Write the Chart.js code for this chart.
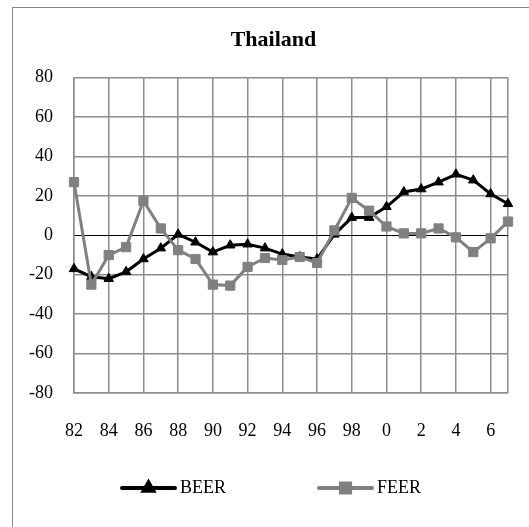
<!DOCTYPE html>
<html>
<head>
<meta charset="utf-8">
<script src="https://cdn.jsdelivr.net/npm/chart.js@4.4.1/dist/chart.umd.min.js"></script>
<style>
  html, body { margin: 0; padding: 0; width: 529px; height: 527px; overflow: hidden; background: #fff; }
  #frame { position: absolute; left: 12px; top: 7px; width: 600px; height: 600px; border: 1px solid #868686; box-sizing: border-box; }
  #wrap { position: absolute; left: 12px; top: 7px; width: 523px; height: 520px; }
</style>
</head>
<body>
<div id="frame"></div>
<div id="wrap"><canvas id="c" width="523" height="520"></canvas></div>
<script>
const TITLE = 'Thailand';
const YEARS = ['82','83','84','85','86','87','88','89','90','91','92','93','94','95','96','97','98','99','0','1','2','3','4','5','6','7'];
const BEER = [-17, -21, -22, -18.5, -12, -6.5, 0.5, -3.5, -8.5, -5, -4.5, -6.5, -9.5, -11, -12, 0.5, 9, 9, 14.5, 22, 23.5, 27, 31, 28, 21, 16];
const FEER = [27, -25, -10, -6, 17.5, 3.5, -7.5, -12, -25, -25.5, -16, -11.5, -12.5, -11, -14, 2.5, 19, 12.5, 4.5, 1, 1, 3.5, -1, -8.5, -1.5, 7];
const Y_MIN = -80, Y_MAX = 80, Y_STEP = 20;

const FONT = "'Liberation Serif', 'Times New Roman', serif";
const GRID = '#8c8c8c';

const lineLegend = {
  id: 'lineLegend',
  afterDraw(chart, args, opts) {
    const ctx = chart.ctx;
    ctx.save();
    chart.data.datasets.forEach((ds, i) => {
      const x = opts.xs[i], y = opts.y, len = opts.len;
      ctx.strokeStyle = ds.borderColor;
      ctx.lineWidth = 4;
      ctx.lineCap = 'round';
      ctx.beginPath(); ctx.moveTo(x, y); ctx.lineTo(x + len, y); ctx.stroke();
      ctx.fillStyle = ds.pointBackgroundColor;
      ctx.strokeStyle = ds.pointBorderColor;
      Chart.helpers.drawPoint(ctx, {pointStyle: ds.pointStyle, radius: ds.pointRadius, borderWidth: 1, rotation: 0}, x + len / 2, y);
      ctx.fillStyle = '#000';
      ctx.font = '18px ' + FONT;
      ctx.textBaseline = 'middle';
      ctx.textAlign = 'left';
      ctx.fillText(ds.label, x + len + 5, y);
    });
    ctx.restore();
  }
};

new Chart(document.getElementById('c'), {
  type: 'line',
  data: {
    labels: YEARS,
    datasets: [
      { label: 'BEER', data: BEER, order: 1, borderColor: '#000', backgroundColor: '#000',
        pointBackgroundColor: '#000', pointBorderColor: '#000', borderWidth: 3,
        pointStyle: 'triangle', pointRadius: 5.5, pointBorderWidth: 1, tension: 0 },
      { label: 'FEER', data: FEER, order: 0, borderColor: '#808080', backgroundColor: '#808080',
        pointBackgroundColor: '#808080', pointBorderColor: '#808080', borderWidth: 3,
        pointStyle: 'rect', pointRadius: 6.5, pointBorderWidth: 1, tension: 0 }
    ]
  },
  options: {
    responsive: false,
    animation: false,
    devicePixelRatio: 1,
    layout: { padding: { left: 0, right: 0, top: 0, bottom: 74 } },
    plugins: {
      legend: { display: false },
      tooltip: { enabled: false },
      title: { display: true, text: TITLE, color: '#000',
        font: { family: FONT, size: 22, weight: 'bold' },
        padding: { top: 19.8, bottom: 24.5 } },
      lineLegend: { xs: [110, 307], y: 481, len: 53 }
    },
    scales: {
      x: {
        type: 'category',
        offset: false,
        grid: {
          drawTicks: false,
          lineWidth: 1.5,
          color: (c) => (c.index % 2 === 0 || c.index === YEARS.length - 1) ? GRID : 'rgba(0,0,0,0)'
        },
        border: { display: true, color: GRID, width: 1.5 },
        ticks: {
          autoSkip: false, maxRotation: 0, padding: 27, color: '#000',
          font: { family: FONT, size: 18 },
          callback: function (v, i) { return i % 2 === 0 ? this.getLabelForValue(v) : ''; }
        },
        afterFit: (s) => { s.height = 60; }
      },
      y: {
        min: Y_MIN, max: Y_MAX,
        grid: {
          drawTicks: false,
          lineWidth: (c) => c.tick && c.tick.value === 0 ? 1 : 1.5,
          color: (c) => c.tick && c.tick.value === 0 ? '#000' : GRID
        },
        border: { display: true, color: GRID, width: 1.5 },
        ticks: { stepSize: Y_STEP, padding: 21, color: '#000', font: { family: FONT, size: 18 } },
        afterFit: (s) => { s.width = 62; }
      },
      yRight: {
        position: 'right',
        min: Y_MIN, max: Y_MAX,
        grid: { display: false, drawTicks: false },
        border: { display: false },
        ticks: { display: false },
        afterFit: (s) => { s.width = 22.3; }
      }
    }
  },
  plugins: [lineLegend]
});
</script>
</body>
</html>
